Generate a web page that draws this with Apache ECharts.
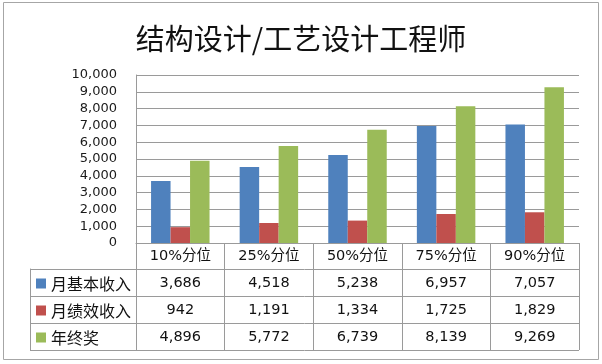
<!DOCTYPE html>
<html>
<head>
<meta charset="utf-8">
<script src="https://cdn.jsdelivr.net/npm/echarts@6/dist/echarts.min.js"></script>
<style>
html,body{margin:0;padding:0;background:#fff;}
#chart{width:602px;height:364px;}
</style>
</head>
<body>
<div id="chart"></div>
<script>
var titleText = '结构设计/工艺设计工程师';
var categories = ['10%分位', '25%分位', '50%分位', '75%分位', '90%分位'];
var seriesNames = ['月基本收入', '月绩效收入', '年终奖'];
var baseIncome = [3686, 4518, 5238, 6957, 7057];
var perfIncome = [942, 1191, 1334, 1725, 1829];
var yearBonus = [4896, 5772, 6739, 8139, 9269];
var yTicks = [0, 1000, 2000, 3000, 4000, 5000, 6000, 7000, 8000, 9000, 10000];

var colors = ['#4F81BD', '#C0504D', '#9BBB59'];
var allSeries = [baseIncome, perfIncome, yearBonus];
var lineColor = '#9a9a9a';
var latin = 'DejaVu Sans, Noto Sans CJK SC, sans-serif';

function fmt(v) { return Number(v).toLocaleString('en-US'); }

var chart = echarts.init(document.getElementById('chart'), null, {renderer: 'canvas'});

var option = {
  animation: false,
  backgroundColor: '#fff',
  color: colors,
  title: {
    text: titleText,
    left: 'center',
    top: 19,
    textStyle: {fontFamily: 'Noto Sans CJK SC, sans-serif', fontSize: 29, fontWeight: 'normal', color: '#111'}
  },
  legend: {
    orient: 'vertical',
    left: 36,
    top: 270,
    padding: 0,
    itemGap: 0,
    itemWidth: 10,
    itemHeight: 10,
    icon: 'rect',
    selectedMode: false,
    data: seriesNames,
    textStyle: {fontFamily: 'Noto Sans CJK SC, sans-serif', fontSize: 16, color: '#111', lineHeight: 27}
  },
  graphic: [{
    type: 'rect',
    silent: true,
    shape: {x: 3.5, y: 2.5, width: 595, height: 357},
    style: {fill: 'none', stroke: '#a6a6a6', lineWidth: 1}
  }],
  grid: [
    {left: 136, right: 23, top: 75, height: 168, containLabel: false},
    {left: 30, right: 23, top: 269, height: 81, containLabel: false}
  ],
  xAxis: [{
    type: 'category',
    gridIndex: 0,
    data: categories,
    axisLine: {show: true, lineStyle: {color: lineColor}},
    axisTick: {show: true, interval: 0, length: 107, lineStyle: {color: lineColor}},
    axisLabel: {
      interval: 0,
      margin: 0,
      formatter: function (val, idx) {
        var s = '{h|' + val + '}';
        for (var i = 0; i < allSeries.length; i++) {
          s += '\n{v|' + fmt(allSeries[i][idx]) + '}';
        }
        return s;
      },
      rich: {
        h: {fontFamily: latin, fontSize: 14.5, color: '#111', lineHeight: 27},
        v: {fontFamily: latin, fontSize: 14.5, color: '#111', lineHeight: 27}
      }
    }
  }, {
    type: 'value',
    gridIndex: 1,
    show: false
  }],
  yAxis: [{
    type: 'value',
    gridIndex: 0,
    min: 0,
    max: 10000,
    interval: 1000,
    axisLine: {show: true, lineStyle: {color: lineColor}},
    axisTick: {show: false},
    splitLine: {show: true, lineStyle: {color: lineColor}},
    axisLabel: {
      margin: 19,
      fontFamily: latin,
      fontSize: 13,
      color: '#1a1a1a',
      formatter: function (v) { return fmt(v); }
    }
  }, {
    type: 'category',
    gridIndex: 1,
    data: seriesNames,
    inverse: true,
    axisLine: {show: true, lineStyle: {color: lineColor}},
    axisTick: {show: false},
    axisLabel: {show: false},
    splitLine: {show: true, interval: 0, lineStyle: {color: lineColor}}
  }],
  series: seriesNames.map(function (name, i) {
    return {
      name: name,
      type: 'bar',
      xAxisIndex: 0,
      yAxisIndex: 0,
      data: allSeries[i],
      barGap: '0%',
      barCategoryGap: '34%',
      itemStyle: {color: colors[i]}
    };
  })
};
chart.setOption(option);
</script>
</body>
</html>
